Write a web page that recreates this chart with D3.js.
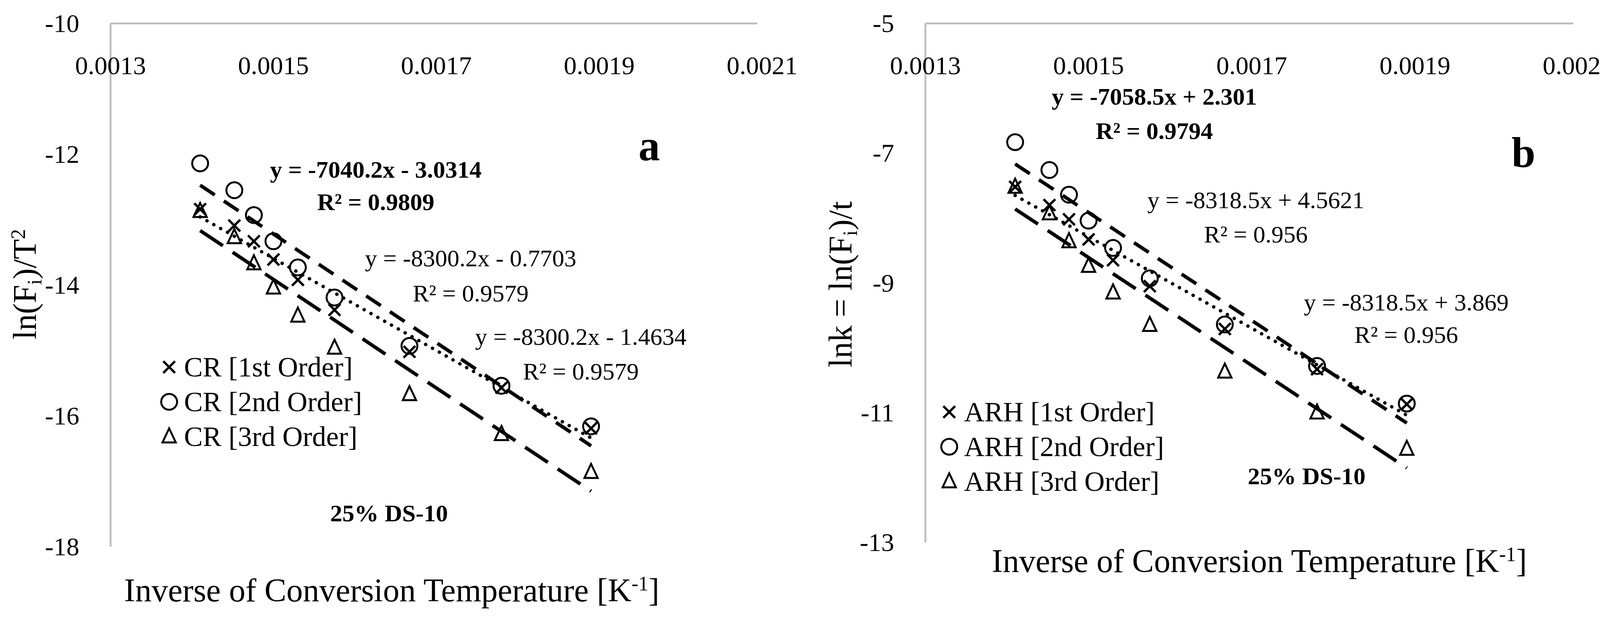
<!DOCTYPE html>
<html><head><meta charset="utf-8">
<script src="https://cdn.jsdelivr.net/npm/d3@7"></script>
<style>body{margin:0;background:#fff}</style>
</head><body>
<svg id="chart" width="4205" height="1621"></svg>
<script>
// inverse temperatures shared by both panels
const invT = [0.00141, 0.001452, 0.001476, 0.0015, 0.00153, 0.001575, 0.001667, 0.00178, 0.00189];
const xTicks = [0.0013, 0.0015, 0.0017, 0.0019, 0.0021];

// panel a : CR
const crFirst = [-12.84, -13.09, -13.33, -13.61, -13.92, -14.38, -15.02, -15.57, -16.19];
const crSecond = [-12.14, -12.55, -12.93, -13.33, -13.73, -14.19, -14.93, -15.54, -16.16];
const crThird = [-12.87, -13.27, -13.67, -14.04, -14.47, -14.96, -15.67, -16.28, -16.86];
const crFits = [[-7040.2, -3.0314], [-8300.2, -0.7703], [-8300.2, -1.4634]];
const crTicks = [-10, -12, -14, -16, -18];

// panel b : ARH
const arhFirst = [-7.52, -7.80, -8.02, -8.33, -8.65, -9.05, -9.71, -10.33, -10.87];
const arhSecond = [-6.83, -7.26, -7.64, -8.04, -8.46, -8.93, -9.64, -10.28, -10.86];
const arhThird = [-7.52, -7.93, -8.36, -8.74, -9.15, -9.65, -10.37, -11.0, -11.56];
const arhFits = [[-7058.5, 2.301], [-8318.5, 4.5621], [-8318.5, 3.869]];
const arhTicks = [-5, -7, -9, -11, -13];

const svg = d3.select("#chart");
const FONT = "'Liberation Serif', 'Times New Roman', serif";

function panel(o) {
  const g = svg.append("g");
  const x = d3.scaleLinear().domain([0.0013, 0.0021]).range([o.x0, o.x1]);
  const y = d3.scaleLinear().domain([o.ticks[0], o.ticks[o.ticks.length - 1]]).range([o.y0, o.y1]);

  // axis lines (x axis sits at the top value)
  g.append("line").attr("x1", x(0.0013)).attr("x2", x(0.0021) - 12)
    .attr("y1", y(o.ticks[0])).attr("y2", y(o.ticks[0]))
    .attr("stroke", "#bfbfbf").attr("stroke-width", 5);
  g.append("line").attr("x1", x(0.0013)).attr("x2", x(0.0013))
    .attr("y1", y(o.ticks[0])).attr("y2", y(o.ticks[o.ticks.length - 1]))
    .attr("stroke", "#bfbfbf").attr("stroke-width", 5);

  g.selectAll(".xt").data(xTicks).join("text")
    .attr("x", d => x(d)).attr("y", y(o.ticks[0]) + 130)
    .attr("text-anchor", "middle").attr("font-family", FONT).attr("font-size", 66)
    .text(d => d.toFixed(4));
  g.selectAll(".yt").data(o.ticks).join("text")
    .attr("x", x(0.0013) - 80).attr("y", d => y(d) + 22)
    .attr("text-anchor", "end").attr("font-family", FONT).attr("font-size", 66)
    .text(d => d);

  // trend lines
  const fitStyle = [
    {dash: "0.1 20", cap: "round", w: 9},
    {dash: "45 28", cap: "butt", w: 9},
    {dash: "70 30", cap: "butt", w: 9}
  ];
  o.fits.forEach((f, i) => {
    const a = invT[0], b = invT[invT.length - 1];
    g.append("line")
      .attr("x1", x(a)).attr("y1", y(f[0] * a + f[1]))
      .attr("x2", x(b)).attr("y2", y(f[0] * b + f[1]))
      .attr("stroke", "#000").attr("stroke-width", fitStyle[i].w)
      .attr("stroke-dasharray", fitStyle[i].dash).attr("stroke-linecap", fitStyle[i].cap);
  });

  // markers
  const mark = (sel, kind) => {
    sel.attr("fill", "none").attr("stroke", "#000").attr("stroke-width", 5);
    if (kind === 0) sel.attr("d", "M-15,-15L15,15M-15,15L15,-15").attr("stroke-width", 6);
    if (kind === 1) sel.attr("d", d3.symbol(d3.symbolCircle, 1300)());
    if (kind === 2) sel.attr("d", "M0,-21L17,15L-17,15Z");
  };
  [o.s1, o.s2, o.s3].forEach((s, k) => {
    g.append("g").selectAll("path").data(s).join("path")
      .attr("transform", (d, i) => `translate(${x(invT[i])},${y(d)})`)
      .call(mark, k);
  });

  // legend
  o.legend.forEach((t, k) => {
    const ly = o.legY + k * 89;
    g.append("path").attr("transform", `translate(${o.legX},${ly})`).call(mark, k);
    g.append("text").attr("x", o.legX + 38).attr("y", ly + 24)
      .attr("font-family", FONT).attr("font-size", 72).text(t);
  });

  // annotations
  o.notes.forEach(n => {
    g.append("text").attr("x", n[0]).attr("y", n[1]).attr("text-anchor", "middle")
      .attr("font-family", FONT).attr("font-size", n[3] || 62)
      .attr("font-weight", n[4] ? "bold" : "normal").text(n[2]);
  });

  // axis titles
  g.append("text").attr("x", o.xtX).attr("y", o.xtY).attr("text-anchor", "middle")
    .attr("font-family", FONT).attr("font-size", 84)
    .html("Inverse of Conversion Temperature [K<tspan dy='-28' font-size='52'>-1</tspan><tspan dy='28'>]</tspan>");
  g.append("text").attr("transform", `translate(${o.ytX},${o.ytY}) rotate(-90)`)
    .attr("text-anchor", "middle").attr("font-family", FONT).attr("font-size", 84)
    .html(o.yTitle);
}

panel({
  x0: 283, x1: 1951, y0: 60, y1: 1400, ticks: crTicks,
  s1: crFirst, s2: crSecond, s3: crThird, fits: crFits,
  legend: ["CR [1st Order]", "CR [2nd Order]", "CR [3rd Order]"], legX: 433, legY: 940,
  notes: [
    [1662, 410, "a", 110, true],
    [962, 455, "y = -7040.2x - 3.0314", 62, true],
    [962, 538, "R² = 0.9809", 62, true],
    [1205, 682, "y = -8300.2x - 0.7703"],
    [1205, 772, "R² = 0.9579"],
    [1487, 883, "y = -8300.2x - 1.4634"],
    [1487, 972, "R² = 0.9579"],
    [996, 1335, "25% DS-10", 62, true]
  ],
  xtX: 1003, xtY: 1540, ytX: 92, ytY: 728,
  yTitle: "ln(F<tspan dy='14' font-size='52'>i</tspan><tspan dy='-14'>)/T</tspan><tspan dy='-28' font-size='52'>2</tspan>"
});

panel({
  x0: 2369, x1: 4040, y0: 60, y1: 1389, ticks: arhTicks,
  s1: arhFirst, s2: arhSecond, s3: arhThird, fits: arhFits,
  legend: ["ARH [1st Order]", "ARH [2nd Order]", "ARH [3rd Order]"], legX: 2430, legY: 1055,
  notes: [
    [3900, 428, "b", 110, true],
    [2955, 268, "y = -7058.5x + 2.301", 62, true],
    [2955, 356, "R² = 0.9794", 62, true],
    [3215, 533, "y = -8318.5x + 4.5621"],
    [3215, 621, "R² = 0.956"],
    [3600, 795, "y = -8318.5x + 3.869"],
    [3600, 878, "R² = 0.956"],
    [3345, 1240, "25% DS-10", 62, true]
  ],
  xtX: 3224, xtY: 1465, ytX: 2180, ytY: 728,
  yTitle: "lnk = ln(F<tspan dy='14' font-size='52'>i</tspan><tspan dy='-14'>)/t</tspan>"
});
</script>
</body></html>
